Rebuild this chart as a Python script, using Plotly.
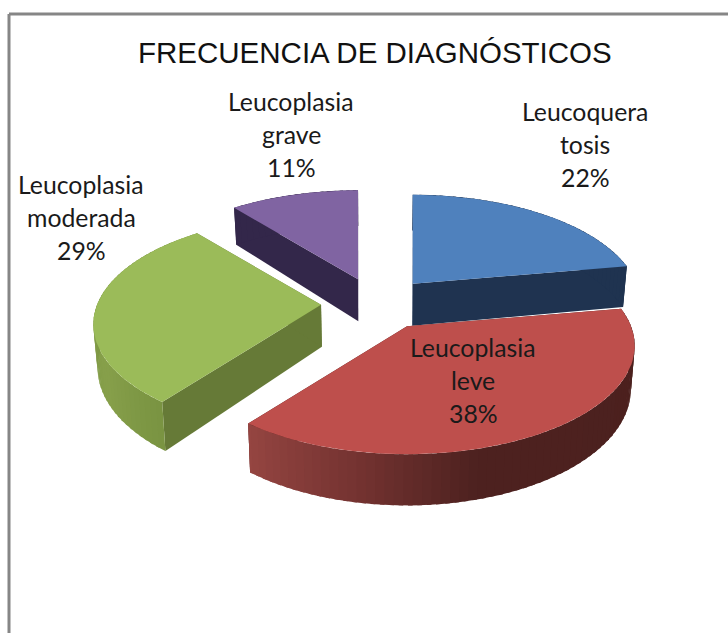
"""Exploded 3D-look pie of diagnosis frequencies, drawn as filled scatter polygons."""

import numpy as np
import plotly.graph_objects as go

categories = ["Leucoquera tosis", "Leucoplasia leve", "Leucoplasia moderada", "Leucoplasia grave"]
values = [22, 38, 29, 11]
label_lines = [
    ["Leucoquera", "tosis", "22%"],
    ["Leucoplasia", "leve", "38%"],
    ["Leucoplasia", "moderada", "29%"],
    ["Leucoplasia", "grave", "11%"],
]
title_text = "FRECUENCIA DE DIAGNÓSTICOS"

# styling and projection, in page pixels
WIDTH, HEIGHT = 728, 633
CX, CY = 377, 304
RX, RY = 224, 105
PERSPECTIVE = 0.18
EXPLODE = 0.25
DEPTH = 42
WARP = 1.5  # the picture's view swings the far rim round slightly, degrees at most
BOTTOM_SHRINK = 0.985  # the underside sits further away, so it narrows towards the middle
top_colors = ["#4F81BD", "#BE4F4C", "#9BBB59", "#8064A2"]
cut_colors = ["#1F3350", "#4F2020", "#667A37", "#33274A"]
# outer wall shading: (angle, rgb) stops per slice
wall_stops = [
    [(0, (31, 51, 80)), (360, (31, 51, 80))],
    [(79, (75, 32, 30)), (164, (78, 34, 32)), (190, (118, 52, 50)), (216, (150, 70, 66))],
    [(216, (122, 148, 66)), (240, (135, 160, 75)), (270, (125, 152, 68)), (322, (125, 152, 68))],
    [(0, (51, 39, 74)), (360, (51, 39, 74))],
]
label_pos = [(585, 111), (473, 347), (81, 184), (291, 101)]
LINE_STEP = 33


def project(apex, theta):
    """Rim point of a slice at angle theta (degrees clockwise from top), plus its scale."""
    t = np.radians(theta)
    t = t + np.radians(WARP) * np.sin(t / 2)
    u, v = np.sin(t), -np.cos(t)
    s = 1 / (1 - PERSPECTIVE * v)
    return apex[0] + RX * u * s, apex[1] + RY * v * s, s


def under(x):
    return CX + (x - CX) * BOTTOM_SHRINK


def polygon(xs, ys, color):
    return go.Scatter(
        x=list(xs), y=list(ys), mode="lines", fill="toself", fillcolor=color,
        line=dict(color=color, width=0), hoverinfo="skip", showlegend=False,
    )


def wall_color(stops, theta):
    angles = [a for a, _ in stops]
    rgb = [np.interp(theta, angles, [c[i] for _, c in stops]) for i in range(3)]
    return "rgb(%d,%d,%d)" % tuple(rgb)


fig = go.Figure()

total = sum(values)
edges = np.cumsum([0] + values) / total * 360
slices = []
for i in range(len(values)):
    start, end = edges[i], edges[i + 1]
    mid = np.radians((start + end) / 2)
    apex = (CX + RX * EXPLODE * np.sin(mid), CY - RY * EXPLODE * np.cos(mid))
    slices.append((i, start, end, apex))

# back to front
for i, start, end, apex in [slices[3], slices[0], slices[2], slices[1]]:
    # the two cut faces go first, the outer wall covers them where they meet
    for edge in (start, end):
        x, y, s = project(apex, edge)
        fig.add_trace(polygon(
            [apex[0], x, under(x), under(apex[0])],
            [apex[1], y, y + DEPTH * s, apex[1] + DEPTH],
            cut_colors[i],
        ))
    # outer wall in narrow overlapping strips, so the shading changes round the rim
    thetas = np.arange(start, end + 2, 2.0)
    thetas[-1] = end
    for a, b in zip(thetas[:-1], thetas[1:]):
        b2 = min(b + 1.0, end)
        xa, ya, sa = project(apex, a)
        xb, yb, sb = project(apex, b2)
        fig.add_trace(polygon(
            [xa, xb, under(xb), under(xa)],
            [ya, yb, yb + DEPTH * sb, ya + DEPTH * sa],
            wall_color(wall_stops[i], (a + b) / 2),
        ))
    # top face
    rim = [project(apex, t) for t in np.linspace(start, end, 80)]
    fig.add_trace(polygon(
        [apex[0]] + [p[0] for p in rim],
        [apex[1]] + [p[1] for p in rim],
        top_colors[i],
    ))

fig.add_annotation(
    x=375, y=52, text=title_text, showarrow=False,
    font=dict(family="Liberation Sans", size=29.5, color="#111111"),
)
for lines, (lx, ly) in zip(label_lines, label_pos):
    for n, line in enumerate(lines):
        fig.add_annotation(
            x=lx, y=ly + n * LINE_STEP, text=line, showarrow=False,
            font=dict(family="Lato", size=24.8, color="#1a1a1a"),
        )

# remains of the chart frame: left and top edges only
fig.add_shape(type="line", x0=9, x1=9, y0=14, y1=HEIGHT, line=dict(color="#868686", width=3))
fig.add_shape(type="line", x0=9, x1=WIDTH, y0=14, y1=14, line=dict(color="#868686", width=3))

fig.update_layout(
    width=WIDTH, height=HEIGHT, margin=dict(l=0, r=0, t=0, b=0),
    paper_bgcolor="white", plot_bgcolor="white", showlegend=False,
    xaxis=dict(range=[0, WIDTH], visible=False, fixedrange=True),
    yaxis=dict(range=[HEIGHT, 0], visible=False, fixedrange=True),
)
fig.write_html(
    "out.html",
    config={"displayModeBar": False},
    post_script="document.body.style.margin='0';document.body.style.overflow='hidden';",
)
